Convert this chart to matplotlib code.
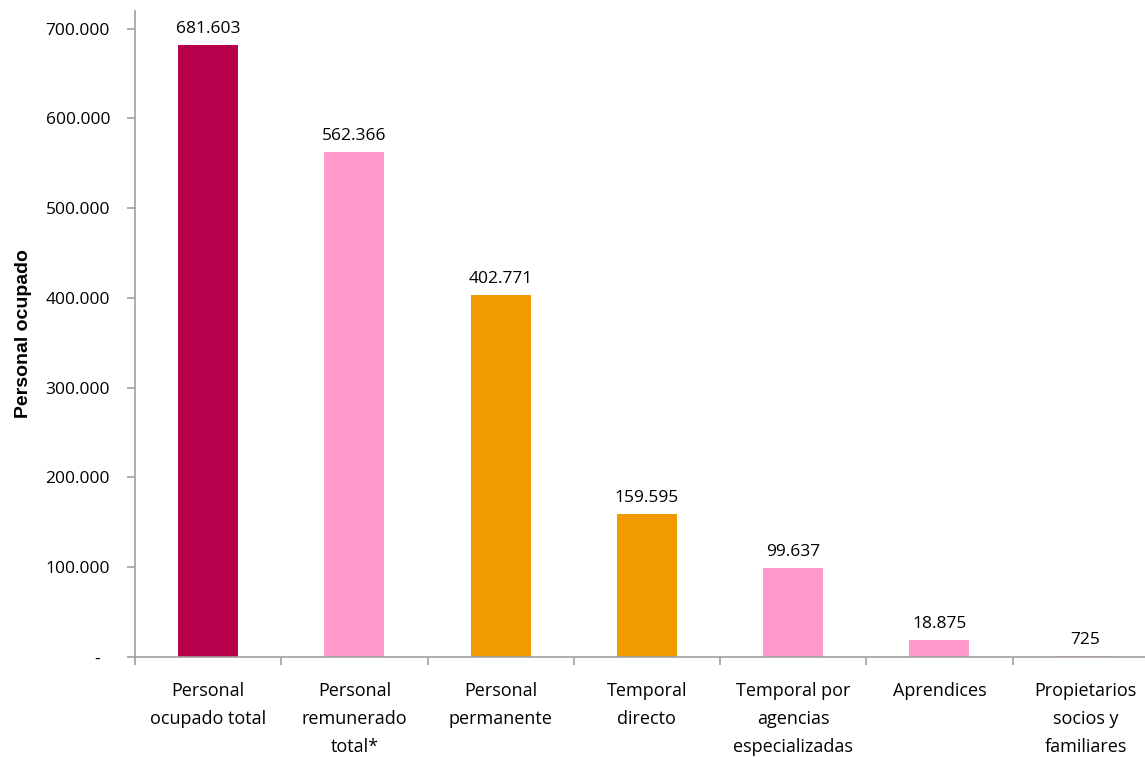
import numpy as np
import matplotlib.pyplot as plt
from matplotlib.ticker import FuncFormatter

categories = ["Personal\nocupado total", "Personal\nremunerado\ntotal*", "Personal\npermanente",
              "Temporal\ndirecto", "Temporal por\nagencias\nespecializadas", "Aprendices",
              "Propietarios\nsocios y\nfamiliares"]
values = [681603, 562366, 402771, 159595, 99637, 18875, 725]
colors = ["#B6004B", "#FF99CC", "#F29B00", "#F29B00", "#FF99CC", "#FF99CC", "#FF99CC"]

plt.rcParams['font.family'] = ['Open Sans', 'DejaVu Sans']

def fmt(v):
    return f"{v:,.0f}".replace(",", ".")

fig = plt.figure(figsize=(11.45, 7.57), dpi=100)
# axes runs a bit past the right edge, as in the original
ax = fig.add_axes([0.118, 0.132, 0.894, 0.854])

x = np.arange(len(categories))
ax.bar(x, values, width=0.41, color=colors)
for xi, v in zip(x, values):
    ax.text(xi, v + 9000, fmt(v), ha='center', va='bottom', fontsize=12.5)

ax.set_xlim(-0.5, len(categories) - 0.5)
ax.set_ylim(0, 720000)
ax.set_yticks(np.arange(0, 700001, 100000))
ax.yaxis.set_major_formatter(FuncFormatter(lambda v, p: "-  " if v == 0 else fmt(v)))
ax.set_xticks(x)
ax.set_xticklabels(categories, fontsize=13, linespacing=1.7)
ax.set_xticks(np.arange(-0.5, len(categories)), minor=True)
ax.tick_params(axis='x', which='major', length=0, pad=18)
ax.tick_params(axis='x', which='minor', length=6, color='#A0A0A0', width=1.2)
ax.tick_params(axis='y', labelsize=12.5, length=6, color='#A0A0A0', width=1.2, pad=12)

for s in ['top', 'right']:
    ax.spines[s].set_visible(False)
for s in ['left', 'bottom']:
    ax.spines[s].set_color('#A0A0A0')
    ax.spines[s].set_linewidth(1.2)

ax.set_ylabel("Personal ocupado", fontsize=14, fontweight='bold',
              family='Liberation Sans', labelpad=10)

fig.savefig("out.png", dpi=100)
